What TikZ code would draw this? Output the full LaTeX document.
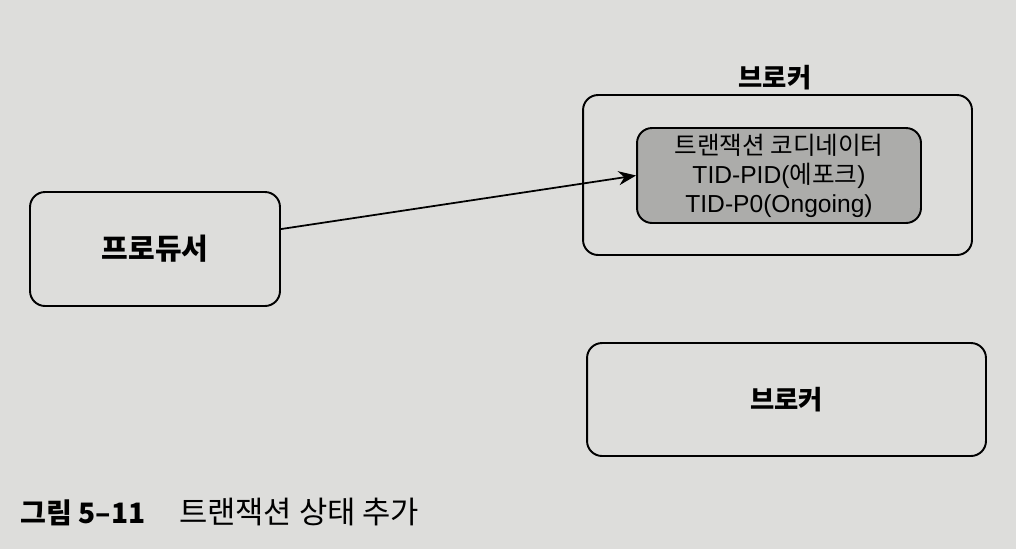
\documentclass[tikz,border=0pt]{standalone}
\usepackage{fontspec}
\setmainfont{Liberation Sans}
\newfontfamily\kr{Noto Sans CJK KR}
\usetikzlibrary{arrows.meta}
\definecolor{page}{RGB}{221,221,219}
\definecolor{coordfill}{RGB}{172,172,170}
\tikzstyle{box}=[draw,rounded corners=0.3cm,line width=1.1pt,inner sep=0pt]
\tikzstyle{link}=[draw,line width=1pt,-{Stealth[length=10pt,width=8pt]}]
\tikzstyle{title}=[font=\kr\bfseries\fontsize{15}{18}\selectfont]

\begin{document}
\begin{tikzpicture}[x=0.02cm,y=-0.02cm]
\fill[page] (0,0) rectangle (1016,549);
\useasboundingbox (0,0) rectangle (1016,549);
% producer side
\node[box,minimum width=5cm,minimum height=2.28cm,title,font=\kr\bfseries\fontsize{16.5}{19}\selectfont] (prod) at (155,249) {프로듀서};
% first broker with the coordinator
\node[box,minimum width=7.78cm,minimum height=3.2cm] (brokA) at (777.5,175) {};
\node[title] (brokAlabel) at (775,78) {브로커};
\node[box,fill=coordfill,minimum width=5.68cm,minimum height=1.9cm,align=center,
      font=\fontsize{14}{16.5}\selectfont] (coord) at (779,175.5)
      {{\kr 트랜잭션 코디네이터}\\TID-PID({\kr 에포크})\\TID-P0(Ongoing)};
% second broker
\node[box,minimum width=7.98cm,minimum height=2.26cm,title] (brokB) at (786.5,399.5) {브로커};
\draw[link] (prod.9.5) -- (coord.west);
% caption
\node[anchor=west,inner sep=0pt,font=\kr\fontsize{16}{19}\selectfont] (caption) at (20,512)
      {{\bfseries 그림 5–11}\hspace{1.2em}{\fontsize{17.5}{20}\selectfont 트랜잭션 상태 추가}};
\end{tikzpicture}
\end{document}
